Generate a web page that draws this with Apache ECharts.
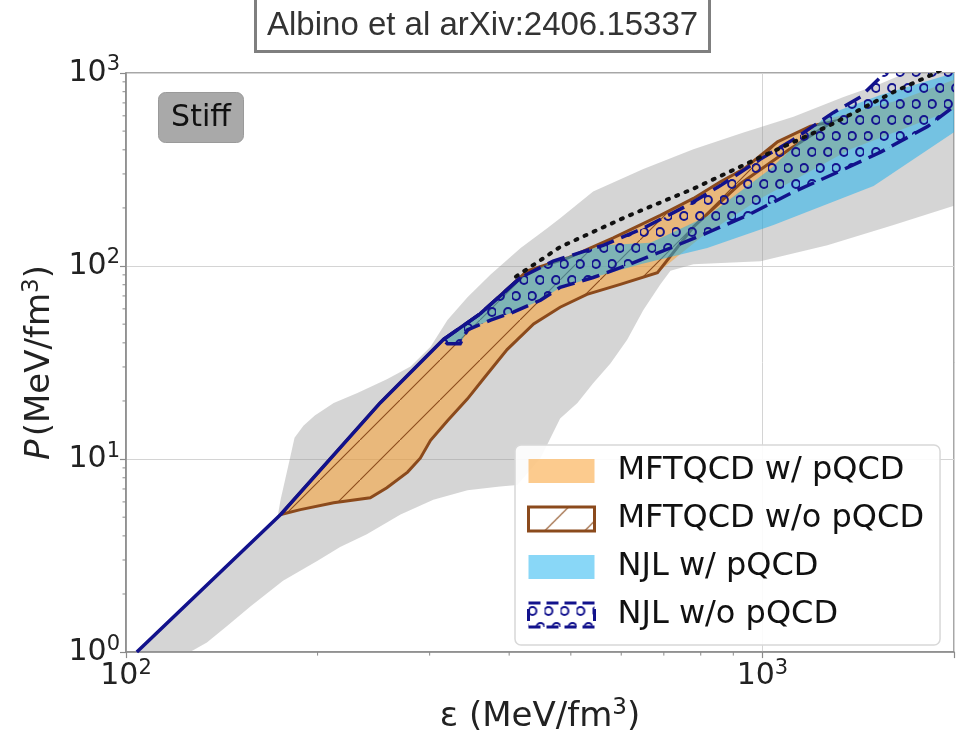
<!DOCTYPE html>
<html><head><meta charset="utf-8">
<script src="https://cdn.jsdelivr.net/npm/echarts@6/dist/echarts.min.js"></script>
<style>html,body{margin:0;padding:0;background:#fff}#c{width:960px;height:739px}</style>
</head><body><div id="c"></div>
<script>
// ---------- data (epsilon [MeV/fm^3], P [MeV/fm^3]) ----------
const xTicks = [100, 1000];
const yTicks = [1, 10, 100, 1000];
const xMinorTicks = [200,300,400,500,600,700,800,900];
const yMinorTicks = [2,3,4,5,6,7,8,9,20,30,40,50,60,70,80,90,200,300,400,500,600,700,800,900];
const seriesNames = ['MFTQCD w/ pQCD', 'MFTQCD w/o pQCD', 'NJL w/ pQCD', 'NJL w/o pQCD'];

const crustLine = [[104,1],[175,5.16],[251,19.6],[315,41.5],[360,56.5],[417,87.2]];

const grayUpper = [[104,1],[173,5.0],[175,6.2],[177,7.3],[181,10.1],[184,12.9],[190,14.9],[198,16.8],[212,19.5],[231,22.0],[257,25.9],[280,30.2],[301,38.2],[320,52.5],[344,68.9],[374,90.3],[417,124],[459,157],[481,177],[542,243],[650,318],[779,403],[934,492],[1119,594],[1341,752],[1516,866],[1680,1000],[2100,1150]];
const grayLower = [[2100,216],[1607,163],[1265,128],[993,106],[779,102],[717,94.6],[691,80.3],[650,59.1],[613,41.5],[577,31.3],[542,24.7],[512,19.5],[481,16.2],[448,10.1],[412,7.35],[387,7.2],[344,6.9],[304,6.16],[270,5.16],[239,4.08],[217,3.5],[200,2.97],[176.5,2.34],[157,1.73],[144,1.36],[134,1.12],[126,1.0]];

// MFTQCD w/o pQCD outline
const mftUpper = [[175,5.16],[251,19.6],[315,41.5],[360,56.5],[427,94.5],[494,110],[583,140],[691,183],[779,224],[859,273],[934,318],[1056,440],[1190,531],[1290,560]];
const mftLower = [[1290,560],[1100,400],[923,267],[780,160],[684,92.4],[598,80.3],[530,71.3],[481,61.2],[437,50.1],[397,36.9],[364,25.9],[344,20.5],[320,15.8],[301,12.5],[290,10.1],[277,8.56],[257,7.1],[242,6.3],[212,5.94],[188,5.47],[175,5.16]];
// MFTQCD w/ pQCD band
const mftPqUpper = [[175,5.16],[251,19.6],[315,41.5],[360,56.5],[427,94.5],[494,110],[583,140],[691,183],[779,224],[859,273],[934,318],[1056,440],[1190,531],[1265,577],[1648,726],[1995,920],[2100,980]];
const mftPqLower = [[2100,680],[1995,645],[1375,403],[993,224],[799,140],[684,92.4],[598,80.3],[530,71.3],[481,61.2],[437,50.1],[397,36.9],[364,25.9],[344,20.5],[320,15.8],[301,12.5],[290,10.1],[277,8.56],[257,7.1],[242,6.3],[212,5.94],[188,5.47],[175,5.16]];

// NJL w/o pQCD (dashed outline)
const njlUpper = [[315,41.5],[360,56.5],[417,87.2],[469,106],[562,128],[650,157],[762,206],[859,261],[993,358],[1119,453],[1292,623],[1426,752],[1533,952],[1650,1160],[2100,1300]];
const njlLower = [[2100,720],[1997,669],[1817,528],[1533,389],[1312,306],[1119,242],[947,183],[828,151],[717,124],[613,101],[542,87.2],[481,77.5],[448,66.5],[406,57.7],[374,52.5],[344,46.7],[335,39.6],[320,39.6],[315,41.5]];
// NJL w/ pQCD (filled)
const njlPqUpper = [[315,41.5],[360,56.5],[417,87.2],[469,106],[562,128],[667,132],[819,181],[1029,318],[1265,608],[1533,769],[1995,998],[2100,1100]];
const njlPqLower = [[2100,520],[1997,492],[1495,260],[1041,163],[819,124],[643,102],[542,87.2],[481,77.5],[448,66.5],[406,57.7],[374,52.5],[344,46.7],[335,39.6],[320,39.6],[315,41.5]];

const dottedLine = [[410,88.2],[481,125.5],[613,181],[779,251.5],[993,366.6],[1265,528],[1607,797],[1871,1000],[1950,1080]];

// ---------- patterns ----------
function slashPattern(){
  const s=40,c=document.createElement('canvas');c.width=s;c.height=s;
  const g=c.getContext('2d');g.strokeStyle='#8b4a1c';g.lineWidth=1.1;
  g.beginPath();g.moveTo(-2,s+2);g.lineTo(s+2,-2);g.stroke();
  return {image:c,repeat:'repeat'};
}
function circlePattern(){
  const w=16,h=32,c=document.createElement('canvas');c.width=w;c.height=h;
  const g=c.getContext('2d');
  g.strokeStyle='#15158f';g.lineWidth=2;
  [[4,8],[12,24]].forEach(function(p){g.beginPath();g.arc(p[0],p[1],3.9,0,Math.PI*2);g.stroke();});
  return {image:c,repeat:'repeat'};
}
const slashFill = slashPattern();
const circleFill = circlePattern();

const C = {
  gray:'rgba(150,150,150,0.40)',
  orange:'rgba(250,160,50,0.55)',
  blue:'rgba(20,175,240,0.5)',
  brown:'#8b4a1c',
  navy:'#12128c',
  axis:'#8a8a8a'
};

function polySeries(name, pts, style, z){
  return {
    type:'custom', name:name, coordinateSystem:'cartesian2d', clip:true, z:z,
    data:pts, encode:{x:0,y:1}, silent:true,
    renderItem:function(params, api){
      if(params.dataIndex!==0) return null;
      return {type:'polygon', shape:{points:pts.map(function(p){return api.coord(p);})}, style:style};
    }
  };
}

const grayPoly = grayUpper.concat(grayLower);
const mftPoly = mftUpper.concat(mftLower);
const mftPqPoly = mftPqUpper.concat(mftPqLower);
const njlPoly = njlUpper.concat(njlLower);
const njlPqPoly = njlPqUpper.concat(njlPqLower);

function powLabel(v){
  const e=Math.log10(v);
  if(Math.abs(e-Math.round(e))>1e-6) return '';
  return '{b|10}{s|'+Math.round(e)+'}';
}
const FONT='DejaVu Sans';
const tickRich = {b:{fontSize:30,fontFamily:FONT,color:'#222'}, s:{fontSize:21,fontFamily:FONT,color:'#222',padding:[0,0,16,0]}};
const nameRich = {i:{fontSize:34,fontStyle:'italic',fontFamily:FONT,color:'#222'}, n:{fontSize:34,fontFamily:FONT,color:'#222'}, s:{fontSize:23,fontFamily:FONT,color:'#222',padding:[0,0,18,0]}};

const chart = echarts.init(document.getElementById('c'), null, {renderer:'canvas'});
chart.setOption({
  animation:false,
  backgroundColor:'#fff',
  title:{text:'Albino et al arXiv:2406.15337', left:255, top:-3, borderColor:'#7f7f7f', borderWidth:3,
    padding:[12,12,10,12], textStyle:{fontFamily:'Liberation Sans', fontWeight:'normal', fontSize:33, color:'#333'}},
  grid:{left:126, right:6, top:73, bottom:80, show:true, borderColor:C.axis, borderWidth:1.5, containLabel:false},
  xAxis:{type:'log', logBase:10, min:100, max:2000,
    name:'{n|ε (MeV/fm}{s|3}{n|)}', nameLocation:'middle', nameGap:40,
    nameTextStyle:{rich:nameRich},
    axisLine:{lineStyle:{color:C.axis,width:1.5}}, axisTick:{length:6,lineStyle:{color:C.axis,width:1.2}},
    axisLabel:{formatter:powLabel, rich:tickRich, margin:6},
    splitLine:{show:true,lineStyle:{color:'#d4d4d4',width:1}}},
  yAxis:{type:'log', logBase:10, min:1, max:1000,
    name:'{i|P} {n|(MeV/fm}{s|3}{n|)}', nameLocation:'middle', nameGap:64, nameRotate:90,
    nameTextStyle:{rich:nameRich},
    axisLine:{lineStyle:{color:C.axis,width:1.5}}, axisTick:{length:6,lineStyle:{color:C.axis,width:1.2}},
    axisLabel:{formatter:powLabel, rich:tickRich, margin:6},
    splitLine:{show:true,lineStyle:{color:'#d4d4d4',width:1}}},
  legend:{orient:'vertical', left:515, top:445, selectedMode:false,
    backgroundColor:'rgba(255,255,255,0.9)', borderColor:'#d8d8d8', borderWidth:1.5, borderRadius:6,
    padding:[10,16,14,12], itemWidth:66, itemHeight:24, itemGap:16,
    textStyle:{fontSize:32, fontFamily:FONT, color:'#111', padding:[0,0,0,18]},
    data:[
      {name:seriesNames[0], icon:'rect', itemStyle:{color:C.orange, borderWidth:0}},
      {name:seriesNames[1], icon:'rect', itemStyle:{color:slashFill, borderColor:C.brown, borderWidth:3}},
      {name:seriesNames[2], icon:'rect', itemStyle:{color:C.blue, borderWidth:0}},
      {name:seriesNames[3], icon:'rect', itemStyle:{color:circleFill, borderColor:C.navy, borderWidth:3, borderType:'dashed'}}
    ]},
  graphic:[{type:'group', id:'stiff', left:158, top:92, children:[
    {type:'rect', shape:{x:0,y:0,width:85,height:50,r:7}, style:{fill:'#a9a9a9', stroke:'#9a9a9a', lineWidth:1}},
    {type:'text', x:42.5, y:26, style:{text:'Stiff', align:'center', verticalAlign:'middle', fontSize:30, fontFamily:FONT, fill:'#111'}}
  ]}],
  series:[
    polySeries('gray envelope', grayPoly, {fill:C.gray}, 1),
    polySeries(seriesNames[0], mftPqPoly, {fill:C.orange}, 2),
    polySeries(seriesNames[1], mftPoly, {fill:slashFill, stroke:C.brown, lineWidth:3}, 3),
    polySeries(seriesNames[2], njlPqPoly, {fill:C.blue}, 4),
    polySeries(seriesNames[3], njlPoly, {fill:circleFill, stroke:C.navy, lineWidth:3.5, lineDash:[18,8]}, 5),
    {type:'line', name:'dotted', data:dottedLine, showSymbol:false, clip:true, z:6, silent:true,
      lineStyle:{color:'#111', width:4, type:[2,8], cap:'round'}},
    {type:'line', name:'crust', data:crustLine, showSymbol:false, clip:true, z:7, silent:true,
      lineStyle:{color:C.navy, width:3.5}}
  ]
});

// minor ticks placed through the axes' own scales
const minor = [];
xMinorTicks.forEach(function(v,i){
  const p = chart.convertToPixel({gridIndex:0},[v,1]);
  minor.push({type:'line', id:'mx'+i, silent:true, z:10, shape:{x1:p[0],y1:p[1],x2:p[0],y2:p[1]+3.5}, style:{stroke:C.axis,lineWidth:1}});
});
yMinorTicks.forEach(function(v,i){
  const p = chart.convertToPixel({gridIndex:0},[100,v]);
  minor.push({type:'line', id:'my'+i, silent:true, z:10, shape:{x1:p[0]-3.5,y1:p[1],x2:p[0],y2:p[1]}, style:{stroke:C.axis,lineWidth:1}});
});
chart.setOption({graphic:minor});
</script></body></html>
